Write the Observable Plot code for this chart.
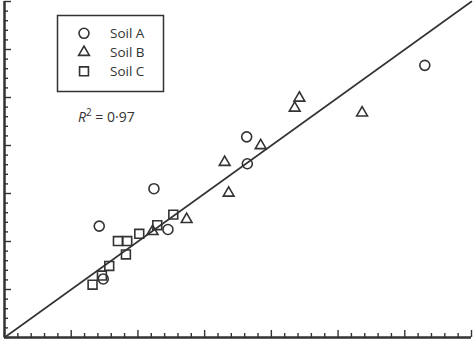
<!DOCTYPE html>
<html><head><meta charset="utf-8">
<script src="https://cdn.jsdelivr.net/npm/d3@7"></script>
<script src="https://cdn.jsdelivr.net/npm/@observablehq/plot@0.6"></script>
<style>
body{margin:0;background:#fff}
#chart{position:relative;width:474px;height:341px}
</style>
</head><body><div id="chart"></div>
<script>
// Soil A (circles)
const soilAx = [6.30, 3.63, 3.64, 2.24, 1.42, 2.45, 1.48];
const soilAy = [5.67, 4.18, 3.62, 3.10, 2.32, 2.25, 1.22];
// Soil B (triangles)
const soilBx = [4.42, 4.35, 5.36, 3.84, 3.30, 3.36, 2.73, 2.22];
const soilBy = [4.99, 4.78, 4.68, 4.00, 3.65, 3.01, 2.46, 2.21];
// Soil C (squares)
const soilCx = [2.53, 2.29, 2.02, 1.70, 1.84, 1.82, 1.57, 1.46, 1.32];
const soilCy = [2.56, 2.34, 2.16, 2.01, 2.01, 1.73, 1.49, 1.29, 1.10];

const soilNames = ["Soil A", "Soil B", "Soil C"];
const soilSymbols = ["circle", "triangle", "square"];
const soilSizes = [5, 4, 5];
const fitLineEnds = [0, 7];
const rSquaredText = "0·97";
const majorTicks = [0, 1, 2, 3, 4, 5, 6, 7];
const minorTicks = d3.range(0, 35).map(i => i / 5).filter(v => Math.abs(v - Math.round(v)) > 1e-9);

const ink = "#333";
const series = [[soilAx, soilAy], [soilBx, soilBy], [soilCx, soilCy]];
const points = series.flatMap(([xs, ys], s) => xs.map((x, i) => ({x, y: ys[i], soil: soilNames[s]})));

const dotMarks = soilNames.map((name, s) =>
  Plot.dot(points.filter(d => d.soil === name), {
    x: "x", y: "y", symbol: () => soilSymbols[s], r: soilSizes[s],
    stroke: ink, strokeWidth: 1.6, fill: "none"
  })
);

const chart = Plot.plot({
  width: 474, height: 341,
  marginTop: 1, marginRight: 3, marginBottom: 4, marginLeft: 4,
  x: {domain: [0, 7]},
  y: {domain: [0, 7]},
  style: {background: "#fff"},
  marks: [
    Plot.line(fitLineEnds, {x: d => d, y: d => d, stroke: ink, strokeWidth: 1.6}),
    ...dotMarks,
    Plot.axisX({ticks: minorTicks, anchor: "bottom", tickSize: -4, tickFormat: () => "", label: null, stroke: ink, strokeWidth: 1.4}),
    Plot.axisX({ticks: majorTicks, anchor: "bottom", tickSize: -7, tickFormat: () => "", label: null, stroke: ink, strokeWidth: 1.4}),
    Plot.axisY({ticks: minorTicks, anchor: "left", tickSize: -4, tickFormat: () => "", label: null, stroke: ink, strokeWidth: 1.4}),
    Plot.axisY({ticks: majorTicks, anchor: "left", tickSize: -7, tickFormat: () => "", label: null, stroke: ink, strokeWidth: 1.4}),
    Plot.ruleY([0], {stroke: ink, strokeWidth: 2.5}),
    Plot.ruleX([0], {stroke: ink, strokeWidth: 2.5})
  ]
});
document.getElementById("chart").appendChild(chart);

// Legend box and R² annotation
const svg = d3.select(chart);
const font = "'Open Sans', sans-serif";
const leg = svg.append("g").attr("text-anchor", "start");
leg.append("rect").attr("x", 57.5).attr("y", 15.5).attr("width", 106).attr("height", 76)
  .attr("fill", "#fff").attr("stroke", ink).attr("stroke-width", 1.5);
const symY = [33.3, 52.3, 71.3];
const txtY = [37.5, 56.5, 75.5];
const d3sym = {circle: d3.symbolCircle, triangle: d3.symbolTriangle, square: d3.symbolSquare};
soilNames.forEach((name, i) => {
  const r = soilSizes[i];
  leg.append("path")
    .attr("transform", `translate(84,${symY[i]})`)
    .attr("d", d3.symbol(d3sym[soilSymbols[i]], Math.PI * r * r)())
    .attr("fill", "none").attr("stroke", ink).attr("stroke-width", 1.6);
  leg.append("text").attr("x", 110).attr("y", txtY[i]).attr("text-anchor", "start")
    .attr("font-family", font).attr("font-size", 13.5).attr("fill", ink).text(name);
});
const rt = svg.append("text").attr("x", 78).attr("y", 122).attr("text-anchor", "start")
  .attr("font-family", font).attr("font-size", 14).attr("fill", ink);
rt.append("tspan").attr("font-style", "italic").text("R");
rt.append("tspan").attr("font-size", 10).attr("dy", -6).text("2");
rt.append("tspan").attr("dy", 6).text(" = " + rSquaredText);
</script>
</body></html>
